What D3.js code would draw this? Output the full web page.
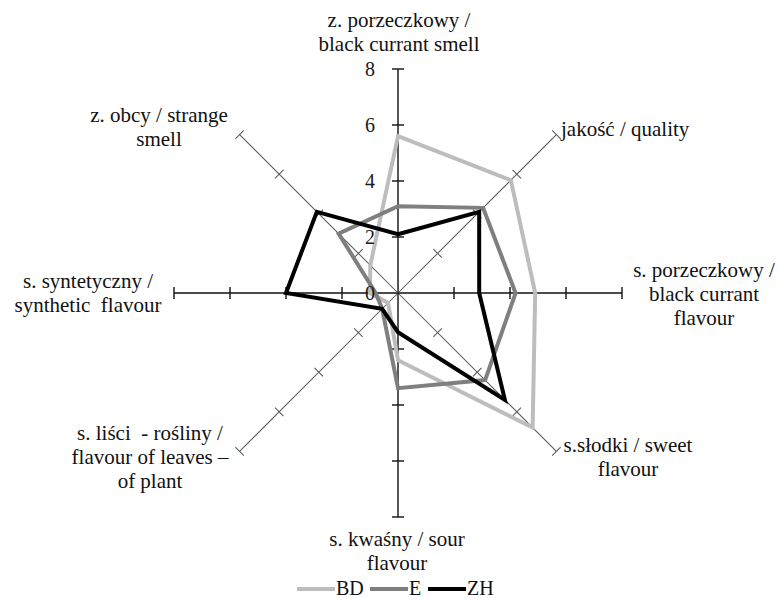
<!DOCTYPE html>
<html>
<head>
<meta charset="utf-8">
<script src="https://cdn.jsdelivr.net/npm/d3@7"></script>
<style>
  body { margin: 0; background: #fff; }
  svg { display: block; }
  text { white-space: pre; }
</style>
</head>
<body>
<svg width="779" height="598"></svg>
<script>
// axes, clockwise from the top
var categories = [
  ["z. porzeczkowy /", "black currant smell"],
  ["jakość / quality"],
  ["s. porzeczkowy /", "black currant", "flavour"],
  ["s.słodki / sweet", "flavour"],
  ["s. kwaśny / sour", "flavour"],
  ["s. liści  - rośliny /", "flavour of leaves –", "of plant"],
  ["s. syntetyczny /", "synthetic  flavour"],
  ["z. obcy / strange", "smell"]
];
var seriesNames = ["BD", "E", "ZH"];
var BD = [5.6, 5.7, 4.9, 6.8, 2.4, 0.5, 1.0, 1.4];
var E  = [3.1, 4.3, 4.2, 4.4, 3.4, 0.8, 0.8, 3.0];
var ZH = [2.1, 4.1, 2.9, 5.4, 1.4, 0.8, 4.0, 4.1];
var tickValues = [0, 2, 4, 6, 8];

var font = "'Times New Roman', Times, 'Liberation Serif', Tinos, 'DejaVu Serif', 'Noto Serif', serif";

var svg = d3.select("svg"),
    cx = 398,
    cy = 293,
    radius = 224;

var r = d3.scaleLinear().domain([0, 8]).range([0, radius]);
var angle = d3.scalePoint().domain(d3.range(categories.length)).range([0, 2 * Math.PI * 7 / 8]);
var color = d3.scaleOrdinal().domain(seriesNames).range(["#bdbdbd", "#7f7f7f", "#000000"]);

var g = svg.append("g").attr("transform", "translate(" + cx + "," + cy + ")");

// axis lines with tick marks
var axis = g.selectAll(".axis")
  .data(d3.range(categories.length))
  .enter().append("g")
    .attr("class", "axis")
    .attr("transform", function(i) { return "rotate(" + (angle(i) * 180 / Math.PI) + ")"; });

axis.append("line")
    .attr("x1", 0).attr("y1", 0)
    .attr("x2", 0).attr("y2", -r(8))
    .attr("stroke", function(i) { return i % 2 ? "#555" : "#111"; })
    .attr("stroke-width", function(i) { return i % 2 ? 1 : 1.4; });

axis.selectAll(".tick")
  .data(function(i) { return tickValues.slice(1).map(function(v) { return { v: v, i: i }; }); })
  .enter().append("line")
    .attr("x1", -6).attr("x2", 6)
    .attr("y1", function(d) { return -r(d.v); })
    .attr("y2", function(d) { return -r(d.v); })
    .attr("stroke", function(d) { return d.i % 2 ? "#555" : "#111"; })
    .attr("stroke-width", function(d) { return d.i % 2 ? 1 : 1.4; });

// series
var series = [BD, E, ZH];
var radial = d3.lineRadial()
    .angle(function(d, i) { return angle(i); })
    .radius(function(d) { return r(d); })
    .curve(d3.curveLinearClosed);

g.selectAll(".series")
  .data(series)
  .enter().append("path")
    .attr("class", "series")
    .attr("d", radial)
    .attr("fill", "none")
    .attr("stroke", function(d, i) { return color(seriesNames[i]); })
    .attr("stroke-width", 4)
    .attr("stroke-linejoin", "miter");

// value labels on the top axis
g.selectAll(".tickLabel")
  .data(tickValues)
  .enter().append("text")
    .attr("class", "tickLabel")
    .attr("x", -28)
    .attr("y", function(d) { return -r(d) + 7; })
    .attr("text-anchor", "middle")
    .style("font-family", font)
    .attr("font-size", 20)
    .attr("fill", "#1a1a1a")
    .text(function(d) { return d; });

// category labels
var labelPos = [
  { x: 399, y: 27,  anchor: "middle" },
  { x: 561, y: 136, anchor: "start" },
  { x: 704, y: 277, anchor: "middle" },
  { x: 628, y: 452, anchor: "middle" },
  { x: 397, y: 546, anchor: "middle" },
  { x: 150, y: 440, anchor: "middle" },
  { x: 88,  y: 288, anchor: "middle" },
  { x: 159, y: 122, anchor: "middle" }
];

var labels = svg.selectAll(".catLabel")
  .data(categories)
  .enter().append("text")
    .attr("class", "catLabel")
    .style("font-family", font)
    .attr("font-size", 21)
    .attr("fill", "#111")
    .attr("text-anchor", function(d, i) { return labelPos[i].anchor; });

labels.selectAll("tspan")
  .data(function(d, i) { return d.map(function(t, k) { return { t: t, k: k, p: labelPos[i] }; }); })
  .enter().append("tspan")
    .attr("x", function(d) { return d.p.x; })
    .attr("y", function(d) { return d.p.y + d.k * 24; })
    .text(function(d) { return d.t; });

// legend
var legendX = [297, 370, 428];
var legend = svg.selectAll(".legend")
  .data(seriesNames)
  .enter().append("g")
    .attr("class", "legend")
    .attr("transform", function(d, i) { return "translate(" + legendX[i] + ",589)"; });

legend.append("line")
    .attr("x1", 0).attr("x2", 38)
    .attr("y1", 0).attr("y2", 0)
    .attr("stroke", function(d) { return color(d); })
    .attr("stroke-width", 4);

legend.append("text")
    .attr("x", 39)
    .attr("y", 6)
    .style("font-family", font)
    .attr("font-size", 20)
    .attr("fill", "#111")
    .text(function(d) { return d; });
</script>
</body>
</html>
